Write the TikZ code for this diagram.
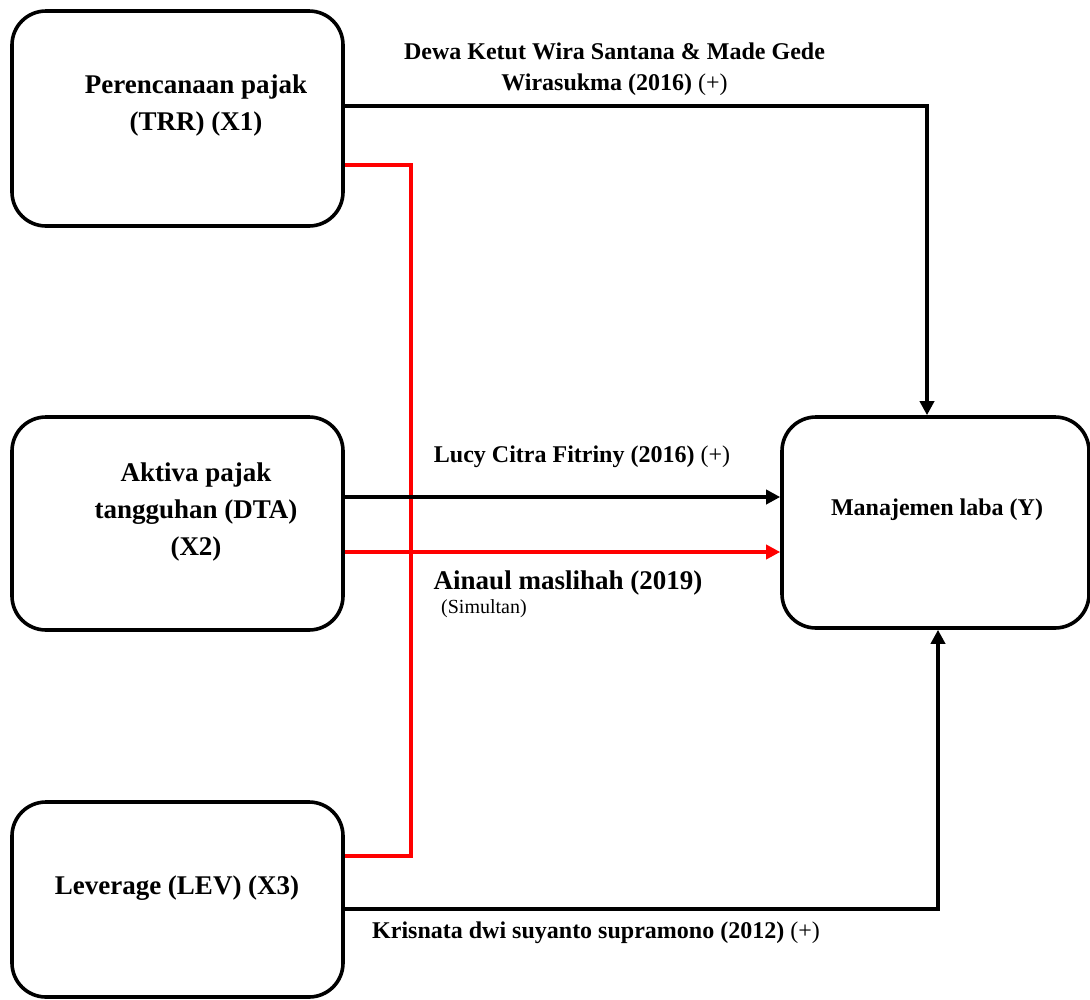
\documentclass[tikz,border=0pt]{standalone}
\usepackage{fontspec}
\setmainfont{Liberation Serif}
\usetikzlibrary{arrows.meta}
\begin{document}
\begin{tikzpicture}[x=1pt,y=-1pt,
  box/.style={draw=black,line width=3.6pt,rounded corners=34pt,inner sep=0pt},
  boxtext/.style={inner sep=0pt,align=center,font=\fontsize{27}{37}\selectfont\bfseries},
  lbl/.style={inner sep=0pt,align=center,font=\fontsize{24}{31}\selectfont\bfseries},
  blk/.style={draw=black,line width=3.6pt},
  rd/.style={draw=red,line width=3.4pt},
  tip/.style={-{Triangle[length=14pt,width=14pt]}}
]
\path[use as bounding box] (0,0) rectangle (1090,999);

% boxes
\node[box,minimum width=331pt,minimum height=215pt] (X1) at (177.5,118.5) {};
\node[box,minimum width=331pt,minimum height=213pt] (X2) at (177.5,523.5) {};
\node[box,minimum width=331pt,minimum height=195pt] (X3) at (177.5,899.5) {};
\node[box,minimum width=307pt,minimum height=211pt] (Y) at (935.5,522.5) {};

% box texts
\node[boxtext] (t1) at (196,106) {Perencanaan pajak\\(TRR) (X1)};
\node[boxtext] (t2) at (196,512) {Aktiva pajak\\tangguhan (DTA)\\(X2)};
\node[boxtext] (t3) at (177,888) {Leverage (LEV) (X3)};
\node[boxtext,font=\fontsize{24}{30}\selectfont\bfseries] (ty) at (937,510) {Manajemen laba (Y)};

% bend coordinates
\coordinate (b1) at (927,106);
\coordinate (r1) at (411,165);
\coordinate (r2) at (411,856);
\coordinate (a1) at (0,497);
\coordinate (a2) at (0,552);
\coordinate (b3) at (938,909);

% connectors
\draw[rd] (X1.east |- r1) -- (r1) -- (r2) -- (X3.east |- r2);
\draw[blk,tip] (X1.east |- b1) -- (b1) -- (Y.north -| b1);
\draw[blk,tip] (X2.east |- a1) -- (Y.west |- a1);
\draw[rd,-{Triangle[length=14pt,width=14pt,fill=red]}] (X2.east |- a2) -- (Y.west |- a2);
\draw[blk,tip] (X3.east |- b3) -- (b3) -- (Y.south -| b3);

% connector labels
\node[lbl] (l1) at (614.5,69) {Dewa Ketut Wira Santana \& Made Gede\\Wirasukma (2016) {\mdseries(+)}};
\node[lbl] (l2) at (582,457) {Lucy Citra Fitriny (2016) {\mdseries(+)}};
\node[lbl,font=\fontsize{27}{31}\selectfont\bfseries] (l3) at (568,583) {Ainaul maslihah (2019)};
\node[inner sep=0pt,anchor=west,font=\fontsize{20}{24}\selectfont] (l4) at (441,609) {(Simultan)};
\node[lbl] (l5) at (596,933) {Krisnata dwi suyanto supramono (2012) {\mdseries(+)}};
\end{tikzpicture}
\end{document}
